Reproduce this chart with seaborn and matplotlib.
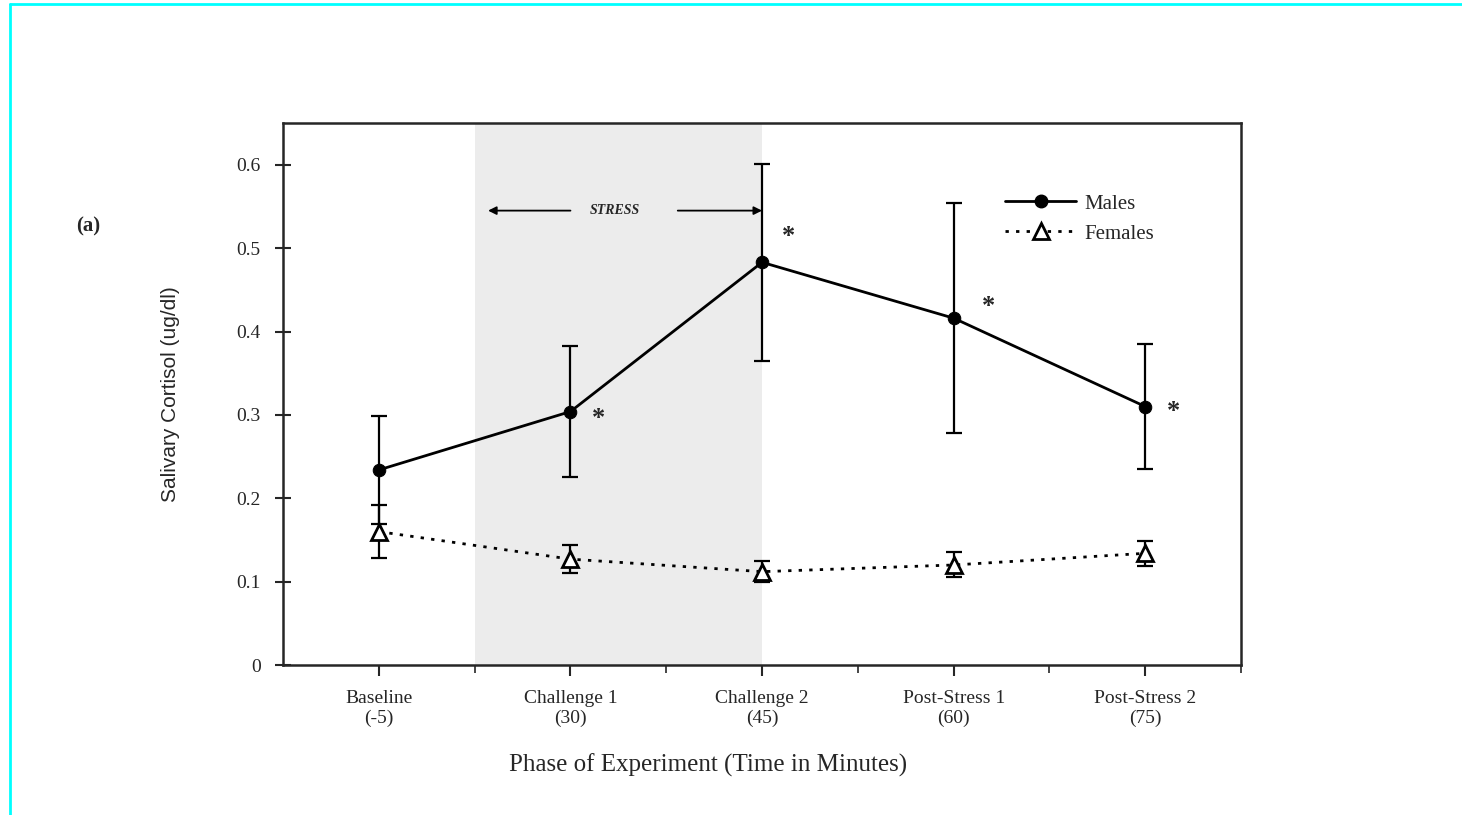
import matplotlib
matplotlib.use("Agg")
import matplotlib.pyplot as plt
from matplotlib.lines import Line2D
from matplotlib.ticker import FixedLocator
import seaborn as sns
import pandas as pd

# Données
phases = ["Baseline\n(-5)", "Challenge 1\n(30)", "Challenge 2\n(45)",
          "Post-Stress 1\n(60)", "Post-Stress 2\n(75)"]
males_mean = [0.234, 0.304, 0.483, 0.416, 0.310]
males_err = [0.065, 0.079, 0.118, 0.138, 0.075]
females_mean = [0.160, 0.127, 0.112, 0.120, 0.134]
females_err = [0.032, 0.017, 0.013, 0.015, 0.015]
significant = [False, True, True, True, True]

sns.set_style("ticks")
plt.rcParams['font.family'] = ['Liberation Serif', 'DejaVu Serif']

df = pd.DataFrame({
    "phase": list(range(len(phases))) * 2,
    "cortisol": males_mean + females_mean,
    "sex": ["Males"] * len(phases) + ["Females"] * len(phases),
})

fig = plt.figure(figsize=(14.62, 8.15), dpi=100)
ax = fig.add_axes([0.1936, 0.184, 0.6553, 0.665])

# zone de stress grisée
ax.axvspan(0.5, 2.0, color="#ececec", zorder=0, lw=0)

x = list(range(len(phases)))
ax.errorbar(x, males_mean, yerr=males_err, fmt="none", ecolor="black",
            elinewidth=1.6, capsize=6, capthick=1.6, zorder=2)
ax.errorbar(x, females_mean, yerr=females_err, fmt="none", ecolor="black",
            elinewidth=1.6, capsize=6, capthick=1.6, zorder=2)

sns.lineplot(data=df[df.sex == "Males"], x="phase", y="cortisol", ax=ax,
             color="black", lw=2, marker="o", markersize=9,
             markeredgecolor="black", zorder=3)
sns.lineplot(data=df[df.sex == "Females"], x="phase", y="cortisol", ax=ax,
             color="black", lw=2, linestyle=(0, (1.2, 2.6)), marker="^",
             markersize=12, markerfacecolor="white", markeredgecolor="black",
             markeredgewidth=2, zorder=4)

# astérisques de significativité
star_offsets = [(0, 0), (20, -4.7), (19, 18.3), (25, 8.3), (20, -3.2)]
for i, sig in enumerate(significant):
    if sig:
        ax.annotate("*", (i, males_mean[i]), xytext=star_offsets[i],
                    textcoords="offset points", ha="center", va="center",
                    fontsize=19, fontweight="bold")

# flèche STRESS
ax.annotate("", xy=(0.57, 0.545), xytext=(1.0, 0.545),
            arrowprops=dict(arrowstyle="-|>", color="black", lw=1.3,
                            mutation_scale=12, shrinkA=0, shrinkB=0))
ax.annotate("", xy=(2.0, 0.545), xytext=(1.56, 0.545),
            arrowprops=dict(arrowstyle="-|>", color="black", lw=1.3,
                            mutation_scale=12, shrinkA=0, shrinkB=0))
ax.text(1.23, 0.545, "STRESS", ha="center", va="center", fontsize=10,
        fontstyle="italic", fontweight="bold")

ax.set_xlim(-0.5, 4.5)
ax.set_ylim(0, 0.65)
ax.set_yticks([0, 0.1, 0.2, 0.3, 0.4, 0.5, 0.6])
ax.set_yticklabels(["0", "0.1", "0.2", "0.3", "0.4", "0.5", "0.6"])
ax.set_xticks(x)
ax.set_xticklabels(phases)
ax.xaxis.set_minor_locator(FixedLocator([0.5, 1.5, 2.5, 3.5, 4.5]))
ax.tick_params(axis="y", direction="inout", length=12, width=1.5,
               labelsize=14, pad=10)
ax.tick_params(axis="x", which="major", direction="out", length=8, width=1.5,
               labelsize=14, pad=10)
ax.tick_params(axis="x", which="minor", direction="out", length=6, width=1.2)
for s in ax.spines.values():
    s.set_linewidth(1.8)

ax.set_xlabel("Phase of Experiment (Time in Minutes)", fontsize=18)
ax.xaxis.set_label_coords(0.444, -0.163)
ax.set_ylabel("Salivary Cortisol (ug/dl)", fontsize=15,
              family=["Liberation Sans", "DejaVu Sans"])
ax.yaxis.set_label_coords(-0.108, 0.5)

handles = [
    Line2D([], [], color="black", lw=2, marker="o", markersize=9,
           markevery=[1]),
    Line2D([], [], color="black", lw=2, linestyle=(0, (1.2, 2.6)),
           marker="^", markersize=11, markerfacecolor="white",
           markeredgewidth=2, markevery=[1]),
]
for h in handles:
    h.set_data([0, 0.5, 1], [0, 0, 0])
ax.legend(handles, ["Males", "Females"], loc="upper left",
          bbox_to_anchor=(0.754, 0.869), frameon=False, fontsize=15,
          borderpad=0, borderaxespad=0, handlelength=3.4,
          handletextpad=0.4, labelspacing=0.5)

fig.text(0.06, 0.722, "(a)", fontsize=15, fontweight="bold", ha="center",
         va="center")

# cadre cyan
fig.add_artist(Line2D([0.0068, 1.0], [0.9945, 0.9945], color="cyan", lw=2))
fig.add_artist(Line2D([0.0068, 0.0068], [0.0, 0.9945], color="cyan", lw=2))

fig.savefig("out.png", dpi=100)
